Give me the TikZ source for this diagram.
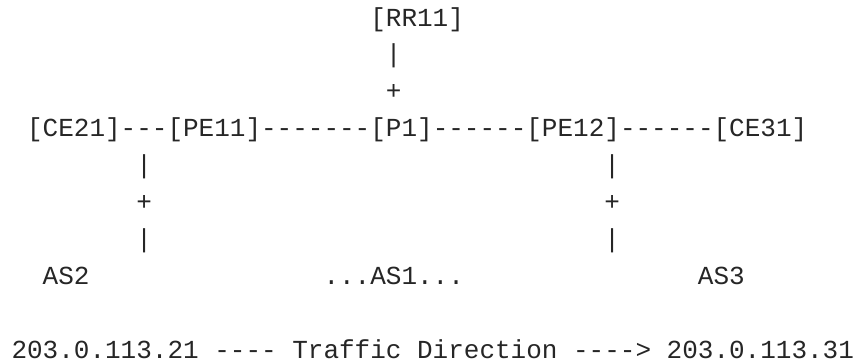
\documentclass[tikz,border=0pt]{standalone}
\usepackage{fontspec}
\setmonofont{Liberation Mono}
\usetikzlibrary{positioning}

\tikzset{ascii/.style={inner sep=0pt, outer sep=0pt, anchor=base west, text=black!85,
  font=\ttfamily\fontsize{19.5}{23}\selectfont}}

\begin{document}
\begin{tikzpicture}[x=0.75pt,y=-0.75pt]
\useasboundingbox (0,0) rectangle (859,362);
\def\cw{15.6}
\def\lh{36.9}

% route reflector above P1
\node[ascii] (rr11) at ({11.5+23*\cw},26) {[RR11]};
\node[ascii] (rrbar) at ({11.5+24*\cw},{26+\lh}) {|};
\node[ascii] (rrplus) at ({11.5+24*\cw},{26+2*\lh}) {+};

% main chain
\node[ascii] (ce21) at ({11.5+\cw},{26+3*\lh}) {[CE21]};
\node[ascii, base right=0pt of ce21] (la) {---};
\node[ascii, base right=0pt of la] (pe11) {[PE11]};
\node[ascii, base right=0pt of pe11] (lb) {-------};
\node[ascii, base right=0pt of lb] (p1) {[P1]};
\node[ascii, base right=0pt of p1] (lc) {------};
\node[ascii, base right=0pt of lc] (pe12) {[PE12]};
\node[ascii, base right=0pt of pe12] (ld) {------};
\node[ascii, base right=0pt of ld] (ce31) {[CE31]};

% links down to the neighbour ASes
\foreach \c/\n in {8/left,38/right}{
  \node[ascii] (\n bara) at ({11.5+\c*\cw},{26+4*\lh}) {|};
  \node[ascii] (\n plus) at ({11.5+\c*\cw},{26+5*\lh}) {+};
  \node[ascii] (\n barb) at ({11.5+\c*\cw},{26+6*\lh}) {|};
}

\node[ascii] (as2) at ({11.5+2*\cw},{26+7*\lh}) {AS2};
\node[ascii] (as1) at ({11.5+20*\cw},{26+7*\lh}) {...AS1...};
\node[ascii] (as3) at ({11.5+44*\cw},{26+7*\lh}) {AS3};

\node[ascii] (traffic) at (11.5,{26+9*\lh}) {203.0.113.21 ---- Traffic Direction ----> 203.0.113.31};

\end{tikzpicture}
\end{document}
